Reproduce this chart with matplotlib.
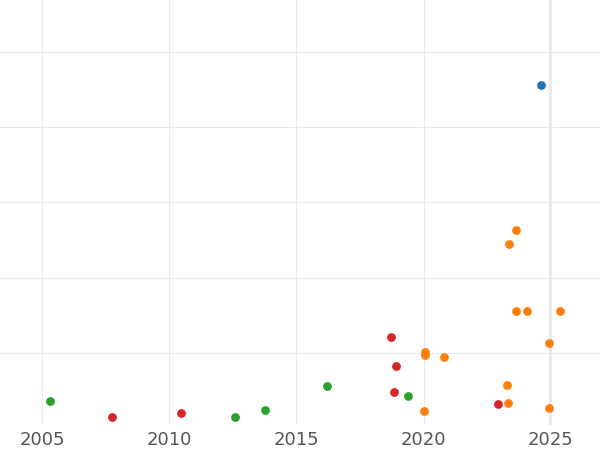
import matplotlib
matplotlib.use("Agg")
import matplotlib.pyplot as plt

blue_x = [2024.61]
blue_y = [4.56]
orange_x = [2023.62, 2023.35, 2023.62, 2024.06, 2025.35, 2024.92, 2020.05, 2020.05, 2020.8, 2023.27, 2023.31, 2020.01, 2024.92]
orange_y = [2.64, 2.45, 1.56, 1.56, 1.56, 1.13, 1.01, 0.97, 0.95, 0.57, 0.33, 0.23, 0.27]
red_x = [2018.71, 2018.91, 2018.83, 2022.92, 2010.46, 2007.75]
red_y = [1.21, 0.83, 0.48, 0.32, 0.20, 0.15]
green_x = [2005.31, 2012.58, 2013.76, 2016.2, 2019.38]
green_y = [0.36, 0.15, 0.24, 0.56, 0.43]
xticks = [2005, 2010, 2015, 2020, 2025]

fig = plt.figure(figsize=(6, 4.5), dpi=100)
ax = fig.add_axes([0, 0.055, 1, 0.945])
for sp in ax.spines.values():
    sp.set_visible(False)
ax.set_xlim(2003.35, 2026.93)
ax.set_ylim(0.04, 5.69)
ax.set_xticks(xticks)
ax.set_xticklabels([str(t) for t in xticks])
ax.set_yticks([1, 2, 3, 4, 5])
ax.set_yticklabels([])
ax.tick_params(length=0, labelsize=13, labelcolor="#555555", pad=4)
ax.grid(True, color="#ebebeb", lw=0.8)
ax.set_axisbelow(True)
ax.axvline(2024.96, color="#e8e8e8", lw=1.6, zorder=1)
for xs, ys, c in [(blue_x, blue_y, "#1f77b4"), (orange_x, orange_y, "#ff7f0e"),
                  (red_x, red_y, "#d62728"), (green_x, green_y, "#2ca02c")]:
    ax.scatter(xs, ys, s=40, color=c, zorder=3, linewidths=0)
fig.savefig("out.png")
